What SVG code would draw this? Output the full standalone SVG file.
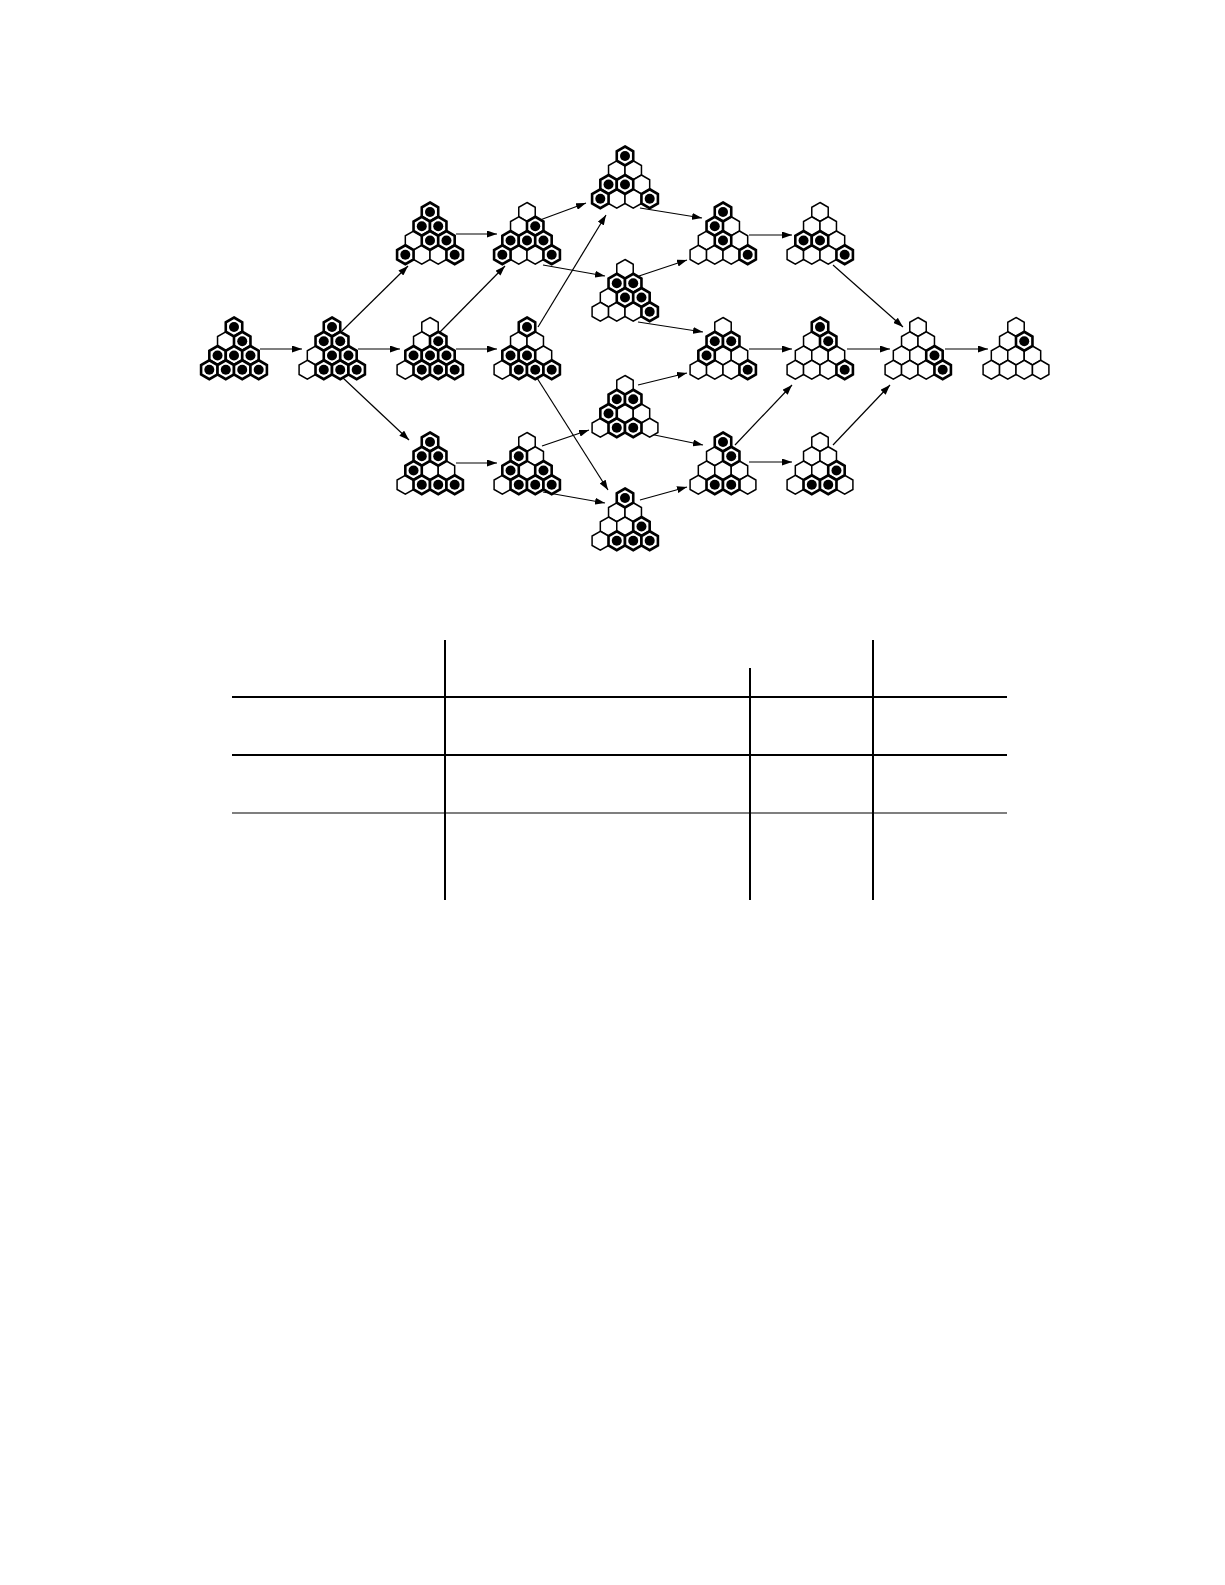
<svg xmlns="http://www.w3.org/2000/svg" width="1225" height="1585" viewBox="0 0 1225 1585">
<style>
.eh{fill:#fff;stroke:#000;stroke-width:1.5;stroke-linejoin:miter}
.ph{fill:#fff;stroke:#000;stroke-width:2.6;stroke-linejoin:miter}
.dot{fill:#000}
.conn line{stroke:#000;stroke-width:1.2;fill:none;marker-end:url(#ah)}
.tbl line{stroke:#000}
.thick{stroke-width:2}
.thin{stroke-width:1.2}
</style>
<defs>
<marker id="ah" viewBox="0 0 10 7" refX="10" refY="3.5" markerWidth="10" markerHeight="7" markerUnits="userSpaceOnUse" orient="auto">
<path d="M0,0 L10,3.5 L0,7 Z" fill="#000"/>
</marker>
<path id="hx" d="M0,-9.5 L8.23,-4.75 L8.23,4.75 L0,9.5 L-8.23,4.75 L-8.23,-4.75 Z"/>
<g id="e"><use href="#hx" class="eh"/></g>
<g id="p"><use href="#hx" class="ph"/><circle class="dot" r="5"/></g>
</defs>
<rect width="1225" height="1585" fill="#fff"/>

<g id="connectors" class="conn">
<line x1="260" y1="349" x2="302" y2="349"/>
<line x1="342" y1="331" x2="408" y2="266"/>
<line x1="358" y1="349" x2="400" y2="349"/>
<line x1="342" y1="377" x2="409" y2="440"/>
<line x1="456" y1="234" x2="497" y2="234"/>
<line x1="440" y1="332" x2="505" y2="266"/>
<line x1="456" y1="349" x2="497" y2="349"/>
<line x1="456" y1="463" x2="497" y2="463"/>
<line x1="540" y1="220" x2="586" y2="203"/>
<line x1="538" y1="327" x2="606" y2="215"/>
<line x1="543" y1="265" x2="605" y2="276"/>
<line x1="537" y1="378" x2="608" y2="490"/>
<line x1="542" y1="446" x2="589" y2="430"/>
<line x1="543" y1="492" x2="605" y2="503"/>
<line x1="640" y1="208" x2="702" y2="218"/>
<line x1="639" y1="276" x2="687" y2="260"/>
<line x1="638" y1="322" x2="703" y2="332"/>
<line x1="638" y1="385" x2="687" y2="373"/>
<line x1="640" y1="432" x2="703" y2="445"/>
<line x1="640" y1="500" x2="687" y2="487"/>
<line x1="749" y1="235" x2="792" y2="235"/>
<line x1="749" y1="349" x2="792" y2="349"/>
<line x1="749" y1="462" x2="792" y2="462"/>
<line x1="735" y1="445" x2="792" y2="385"/>
<line x1="833" y1="445" x2="890" y2="385"/>
<line x1="833" y1="265" x2="903" y2="327"/>
<line x1="847" y1="349" x2="890" y2="349"/>
<line x1="945" y1="349" x2="988" y2="349"/>
</g>

<!-- P0=(0,0) P1=(-8.23,14.25) P2=(8.23,14.25) P3=(-16.45,28.5) P4=(0,28.5) P5=(16.45,28.5) P6=(-24.68,42.75) P7=(-8.23,42.75) P8=(8.23,42.75) P9=(24.68,42.75) -->

<g id="b1" transform="translate(234,327)">
<use href="#e" x="-8.23" y="14.25"/>
<use href="#p" x="0" y="0"/><use href="#p" x="8.23" y="14.25"/><use href="#p" x="-16.45" y="28.5"/><use href="#p" x="0" y="28.5"/><use href="#p" x="16.45" y="28.5"/><use href="#p" x="-24.68" y="42.75"/><use href="#p" x="-8.23" y="42.75"/><use href="#p" x="8.23" y="42.75"/><use href="#p" x="24.68" y="42.75"/>
</g>
<g id="b2" transform="translate(332,327)">
<use href="#e" x="-16.45" y="28.5"/><use href="#e" x="-24.68" y="42.75"/>
<use href="#p" x="0" y="0"/><use href="#p" x="-8.23" y="14.25"/><use href="#p" x="8.23" y="14.25"/><use href="#p" x="0" y="28.5"/><use href="#p" x="16.45" y="28.5"/><use href="#p" x="-8.23" y="42.75"/><use href="#p" x="8.23" y="42.75"/><use href="#p" x="24.68" y="42.75"/>
</g>
<g id="b3" transform="translate(430,212)">
<use href="#e" x="-16.45" y="28.5"/><use href="#e" x="-8.23" y="42.75"/><use href="#e" x="8.23" y="42.75"/>
<use href="#p" x="0" y="0"/><use href="#p" x="-8.23" y="14.25"/><use href="#p" x="8.23" y="14.25"/><use href="#p" x="0" y="28.5"/><use href="#p" x="16.45" y="28.5"/><use href="#p" x="-24.68" y="42.75"/><use href="#p" x="24.68" y="42.75"/>
</g>
<g id="b4" transform="translate(430,327)">
<use href="#e" x="0" y="0"/><use href="#e" x="-8.23" y="14.25"/><use href="#e" x="-24.68" y="42.75"/>
<use href="#p" x="8.23" y="14.25"/><use href="#p" x="-16.45" y="28.5"/><use href="#p" x="0" y="28.5"/><use href="#p" x="16.45" y="28.5"/><use href="#p" x="-8.23" y="42.75"/><use href="#p" x="8.23" y="42.75"/><use href="#p" x="24.68" y="42.75"/>
</g>
<g id="b5" transform="translate(430,442)">
<use href="#e" x="0" y="28.5"/><use href="#e" x="16.45" y="28.5"/><use href="#e" x="-24.68" y="42.75"/>
<use href="#p" x="0" y="0"/><use href="#p" x="-8.23" y="14.25"/><use href="#p" x="8.23" y="14.25"/><use href="#p" x="-16.45" y="28.5"/><use href="#p" x="-8.23" y="42.75"/><use href="#p" x="8.23" y="42.75"/><use href="#p" x="24.68" y="42.75"/>
</g>
<g id="b6" transform="translate(527,212)">
<use href="#e" x="0" y="0"/><use href="#e" x="-8.23" y="14.25"/><use href="#e" x="-8.23" y="42.75"/><use href="#e" x="8.23" y="42.75"/>
<use href="#p" x="8.23" y="14.25"/><use href="#p" x="-16.45" y="28.5"/><use href="#p" x="0" y="28.5"/><use href="#p" x="16.45" y="28.5"/><use href="#p" x="-24.68" y="42.75"/><use href="#p" x="24.68" y="42.75"/>
</g>
<g id="b7" transform="translate(527,327)">
<use href="#e" x="-8.23" y="14.25"/><use href="#e" x="8.23" y="14.25"/><use href="#e" x="16.45" y="28.5"/><use href="#e" x="-24.68" y="42.75"/>
<use href="#p" x="0" y="0"/><use href="#p" x="-16.45" y="28.5"/><use href="#p" x="0" y="28.5"/><use href="#p" x="-8.23" y="42.75"/><use href="#p" x="8.23" y="42.75"/><use href="#p" x="24.68" y="42.75"/>
</g>
<g id="b8" transform="translate(527,442)">
<use href="#e" x="0" y="0"/><use href="#e" x="8.23" y="14.25"/><use href="#e" x="0" y="28.5"/><use href="#e" x="-24.68" y="42.75"/>
<use href="#p" x="-8.23" y="14.25"/><use href="#p" x="-16.45" y="28.5"/><use href="#p" x="16.45" y="28.5"/><use href="#p" x="-8.23" y="42.75"/><use href="#p" x="8.23" y="42.75"/><use href="#p" x="24.68" y="42.75"/>
</g>
<g id="b9" transform="translate(625,156)">
<use href="#e" x="-8.23" y="14.25"/><use href="#e" x="8.23" y="14.25"/><use href="#e" x="16.45" y="28.5"/><use href="#e" x="-8.23" y="42.75"/><use href="#e" x="8.23" y="42.75"/>
<use href="#p" x="0" y="0"/><use href="#p" x="-16.45" y="28.5"/><use href="#p" x="0" y="28.5"/><use href="#p" x="-24.68" y="42.75"/><use href="#p" x="24.68" y="42.75"/>
</g>
<g id="b10" transform="translate(625,269)">
<use href="#e" x="0" y="0"/><use href="#e" x="-16.45" y="28.5"/><use href="#e" x="-24.68" y="42.75"/><use href="#e" x="-8.23" y="42.75"/><use href="#e" x="8.23" y="42.75"/>
<use href="#p" x="-8.23" y="14.25"/><use href="#p" x="8.23" y="14.25"/><use href="#p" x="0" y="28.5"/><use href="#p" x="16.45" y="28.5"/><use href="#p" x="24.68" y="42.75"/>
</g>
<g id="b11" transform="translate(625,385)">
<use href="#e" x="0" y="0"/><use href="#e" x="0" y="28.5"/><use href="#e" x="16.45" y="28.5"/><use href="#e" x="-24.68" y="42.75"/><use href="#e" x="24.68" y="42.75"/>
<use href="#p" x="-8.23" y="14.25"/><use href="#p" x="8.23" y="14.25"/><use href="#p" x="-16.45" y="28.5"/><use href="#p" x="-8.23" y="42.75"/><use href="#p" x="8.23" y="42.75"/>
</g>
<g id="b12" transform="translate(625,498)">
<use href="#e" x="-8.23" y="14.25"/><use href="#e" x="8.23" y="14.25"/><use href="#e" x="-16.45" y="28.5"/><use href="#e" x="0" y="28.5"/><use href="#e" x="-24.68" y="42.75"/>
<use href="#p" x="0" y="0"/><use href="#p" x="16.45" y="28.5"/><use href="#p" x="-8.23" y="42.75"/><use href="#p" x="8.23" y="42.75"/><use href="#p" x="24.68" y="42.75"/>
</g>
<g id="b13" transform="translate(723,212)">
<use href="#e" x="8.23" y="14.25"/><use href="#e" x="-16.45" y="28.5"/><use href="#e" x="16.45" y="28.5"/><use href="#e" x="-24.68" y="42.75"/><use href="#e" x="-8.23" y="42.75"/><use href="#e" x="8.23" y="42.75"/>
<use href="#p" x="0" y="0"/><use href="#p" x="-8.23" y="14.25"/><use href="#p" x="0" y="28.5"/><use href="#p" x="24.68" y="42.75"/>
</g>
<g id="b14" transform="translate(723,327)">
<use href="#e" x="0" y="0"/><use href="#e" x="0" y="28.5"/><use href="#e" x="16.45" y="28.5"/><use href="#e" x="-24.68" y="42.75"/><use href="#e" x="-8.23" y="42.75"/><use href="#e" x="8.23" y="42.75"/>
<use href="#p" x="-8.23" y="14.25"/><use href="#p" x="8.23" y="14.25"/><use href="#p" x="-16.45" y="28.5"/><use href="#p" x="24.68" y="42.75"/>
</g>
<g id="b15" transform="translate(723,442)">
<use href="#e" x="-8.23" y="14.25"/><use href="#e" x="-16.45" y="28.5"/><use href="#e" x="0" y="28.5"/><use href="#e" x="16.45" y="28.5"/><use href="#e" x="-24.68" y="42.75"/><use href="#e" x="24.68" y="42.75"/>
<use href="#p" x="0" y="0"/><use href="#p" x="8.23" y="14.25"/><use href="#p" x="-8.23" y="42.75"/><use href="#p" x="8.23" y="42.75"/>
</g>
<g id="b16" transform="translate(820,212)">
<use href="#e" x="0" y="0"/><use href="#e" x="-8.23" y="14.25"/><use href="#e" x="8.23" y="14.25"/><use href="#e" x="16.45" y="28.5"/><use href="#e" x="-24.68" y="42.75"/><use href="#e" x="-8.23" y="42.75"/><use href="#e" x="8.23" y="42.75"/>
<use href="#p" x="-16.45" y="28.5"/><use href="#p" x="0" y="28.5"/><use href="#p" x="24.68" y="42.75"/>
</g>
<g id="b17" transform="translate(820,327)">
<use href="#e" x="-8.23" y="14.25"/><use href="#e" x="-16.45" y="28.5"/><use href="#e" x="0" y="28.5"/><use href="#e" x="16.45" y="28.5"/><use href="#e" x="-24.68" y="42.75"/><use href="#e" x="-8.23" y="42.75"/><use href="#e" x="8.23" y="42.75"/>
<use href="#p" x="0" y="0"/><use href="#p" x="8.23" y="14.25"/><use href="#p" x="24.68" y="42.75"/>
</g>
<g id="b18" transform="translate(820,442)">
<use href="#e" x="0" y="0"/><use href="#e" x="-8.23" y="14.25"/><use href="#e" x="8.23" y="14.25"/><use href="#e" x="-16.45" y="28.5"/><use href="#e" x="0" y="28.5"/><use href="#e" x="-24.68" y="42.75"/><use href="#e" x="24.68" y="42.75"/>
<use href="#p" x="16.45" y="28.5"/><use href="#p" x="-8.23" y="42.75"/><use href="#p" x="8.23" y="42.75"/>
</g>
<g id="b19" transform="translate(918,327)">
<use href="#e" x="0" y="0"/><use href="#e" x="-8.23" y="14.25"/><use href="#e" x="8.23" y="14.25"/><use href="#e" x="-16.45" y="28.5"/><use href="#e" x="0" y="28.5"/><use href="#e" x="-24.68" y="42.75"/><use href="#e" x="-8.23" y="42.75"/><use href="#e" x="8.23" y="42.75"/>
<use href="#p" x="16.45" y="28.5"/><use href="#p" x="24.68" y="42.75"/>
</g>
<g id="b20" transform="translate(1016,327)">
<use href="#e" x="0" y="0"/><use href="#e" x="-8.23" y="14.25"/><use href="#e" x="-16.45" y="28.5"/><use href="#e" x="0" y="28.5"/><use href="#e" x="16.45" y="28.5"/><use href="#e" x="-24.68" y="42.75"/><use href="#e" x="-8.23" y="42.75"/><use href="#e" x="8.23" y="42.75"/><use href="#e" x="24.68" y="42.75"/>
<use href="#p" x="8.23" y="14.25"/>
</g>

<g id="table" class="tbl">
<line class="thick" x1="445" y1="640" x2="445" y2="900"/>
<line class="thick" x1="750" y1="668" x2="750" y2="900"/>
<line class="thick" x1="873" y1="640" x2="873" y2="900"/>
<line class="thick" x1="232" y1="697" x2="1007" y2="697"/>
<line class="thick" x1="232" y1="755" x2="1007" y2="755"/>
<line class="thin" x1="232" y1="813" x2="1007" y2="813"/>
</g>
</svg>
